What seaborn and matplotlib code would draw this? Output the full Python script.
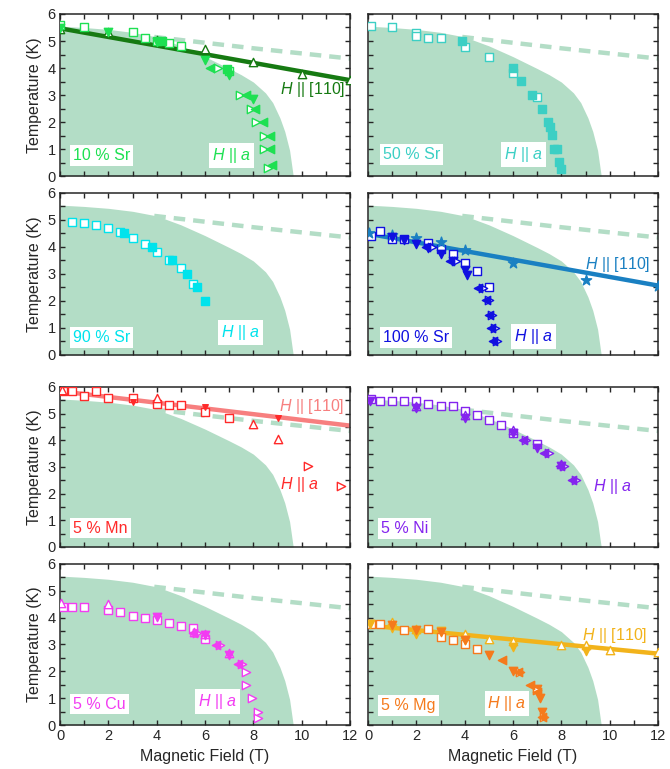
import matplotlib
matplotlib.use('Agg')
import matplotlib.pyplot as plt
import seaborn as sns
from matplotlib.ticker import MultipleLocator

sns.set_style('ticks')
plt.rcParams['font.family'] = ['Liberation Sans', 'DejaVu Sans']
plt.rcParams['mathtext.fontset'] = 'custom'
plt.rcParams['mathtext.it'] = 'Liberation Sans:italic'
plt.rcParams['mathtext.rm'] = 'Liberation Sans'

#%% shared phase boundary (pure compound) + dashed H||[110] line
pb_h = [0, 1, 2, 3, 4, 5, 6, 7, 7.5, 8, 8.5, 8.8, 9.1, 9.3, 9.5, 9.65]
pb_t = [5.55, 5.5, 5.43, 5.32, 5.15, 4.82, 4.42, 3.98, 3.75, 3.48, 3.08, 2.72, 2.15, 1.65, 0.95, 0]
dl_h = [3.9, 8, 12]
dl_t = [5.15, 4.73, 4.35]

#%% 10 % Sr
sr10_line_h = [0, 12]
sr10_line_t = [5.47, 3.55]
sr10_up_h = [0, 2, 4, 6, 8, 10, 12]
sr10_up_t = [5.45, 5.35, 5.05, 4.7, 4.23, 3.77, 3.55]
sr10_sq_h = [0, 1, 3, 3.5, 4, 4.5, 5, 7]
sr10_sq_t = [5.6, 5.5, 5.32, 5.12, 5.0, 4.91, 4.81, 3.9]
sr10_fsq_h = [4.2, 6.9]
sr10_fsq_t = [5.0, 3.98]
sr10_dn_h = [0, 2, 4, 6, 7, 8]
sr10_dn_t = [5.47, 5.32, 4.97, 4.3, 3.74, 2.87]
sr10_lf_h = [6.19, 7.7, 8.05, 8.39, 8.67, 8.67, 8.76]
sr10_lf_t = [4.0, 3.0, 2.5, 2.0, 1.5, 1.0, 0.4]
sr10_rt_h = [6.53, 7.43, 7.9, 8.12, 8.46, 8.46, 8.6]
sr10_rt_t = [4.0, 3.0, 2.5, 2.0, 1.5, 1.0, 0.3]

#%% 50 % Sr
sr50_sq_h = [0.14, 1.0, 2.0, 2.0, 2.48, 3.0, 4.0, 5.0, 5.98, 6.99]
sr50_sq_t = [5.56, 5.51, 5.28, 5.18, 5.1, 5.1, 4.78, 4.39, 3.8, 2.93]
sr50_fsq_h = [3.9, 5.98, 6.35, 6.8, 7.22, 7.43, 7.53, 7.63, 7.7, 7.82, 7.9, 7.98]
sr50_fsq_t = [5.01, 4.0, 3.51, 3.0, 2.5, 2.0, 1.8, 1.51, 1.01, 1.01, 0.52, 0.27]

#%% 90 % Sr
sr90_sq_h = [0.5, 1.0, 1.5, 2.0, 2.5, 3.0, 3.5, 4.0, 4.5, 5.0, 5.5]
sr90_sq_t = [4.92, 4.87, 4.82, 4.72, 4.57, 4.32, 4.12, 3.83, 3.53, 3.23, 2.63]
sr90_fsq_h = [2.64, 3.81, 4.64, 5.25, 5.68, 6.01]
sr90_fsq_t = [4.51, 4.0, 3.5, 2.98, 2.5, 1.99]

#%% 100 % Sr
sr100_line_h = [0, 12]
sr100_line_t = [4.49, 2.57]
sr100_star_h = [0.04, 1.0, 2.0, 3.0, 4.0, 6.0, 9.0, 12.0]
sr100_star_t = [4.52, 4.43, 4.34, 4.2, 3.87, 3.41, 2.78, 2.57]
sr100_sq_h = [0.14, 0.5, 1.0, 1.5, 2.5, 3.0, 3.5, 4.0, 4.5, 5.0]
sr100_sq_t = [4.4, 4.58, 4.29, 4.31, 4.16, 3.94, 3.73, 3.42, 3.1, 2.52]
sr100_dn_h = [1.0, 1.5, 2.0, 2.5, 3.0, 3.5, 4.0, 4.1]
sr100_dn_t = [4.37, 4.27, 4.12, 3.96, 3.75, 3.47, 3.13, 2.97]
sr100_lf_h = [2.4, 3.4, 4.54, 4.88, 5.0, 5.09, 5.19]
sr100_lf_t = [4.0, 3.47, 2.48, 2.02, 1.49, 0.99, 0.5]
sr100_rt_h = [2.65, 3.65, 4.75, 5.0, 5.15, 5.25, 5.32]
sr100_rt_t = [4.0, 3.47, 2.48, 2.02, 1.49, 0.99, 0.5]

#%% 5 % Mn
mn_line_h = [0, 12]
mn_line_t = [5.84, 4.55]
mn_sq_h = [0.14, 0.5, 1.0, 1.5, 2.0, 3.0, 4.0, 4.5, 5.0, 6.0, 7.0]
mn_sq_t = [5.86, 5.86, 5.65, 5.84, 5.59, 5.59, 5.36, 5.34, 5.34, 5.06, 4.84]
mn_up_h = [0.1, 4.0, 8.0, 9.0]
mn_up_t = [5.9, 5.59, 4.6, 4.06]
mn_dn_h = [3.0, 6.0, 9.0]
mn_dn_t = [5.45, 5.25, 4.85]
mn_rt_h = [10.27, 11.62]
mn_rt_t = [3.03, 2.28]

#%% 5 % Ni
ni_sq_h = [0.14, 0.5, 1, 1.5, 2, 2.5, 3, 3.5, 4, 4.5, 5, 5.5, 6, 7]
ni_sq_t = [5.55, 5.46, 5.46, 5.46, 5.46, 5.36, 5.27, 5.27, 5.09, 4.96, 4.78, 4.59, 4.28, 3.86]
ni_up_h = [2, 4, 6, 8]
ni_up_t = [5.3, 4.95, 4.4, 3.1]
ni_dn_h = [0.07, 2, 4, 6, 7, 8]
ni_dn_t = [5.46, 5.21, 4.84, 4.28, 3.71, 3.03]
ni_lf_h = [6.4, 7.3, 7.95, 8.45]
ni_lf_t = [4.03, 3.53, 3.03, 2.53]
ni_rt_h = [6.55, 7.5, 8.1, 8.6]
ni_rt_t = [4.03, 3.53, 3.03, 2.53]

#%% 5 % Cu
cu_sq_h = [0.14, 0.5, 1.0, 2.0, 2.5, 3.0, 3.5, 4.0, 4.5, 5.0, 5.5, 6.0]
cu_sq_t = [4.39, 4.39, 4.39, 4.3, 4.2, 4.08, 3.99, 3.92, 3.8, 3.7, 3.63, 3.22]
cu_up_h = [0.04, 2.0, 5.55, 6.0, 7.0]
cu_up_t = [4.55, 4.5, 3.45, 3.38, 2.7]
cu_dn_h = [4.0, 6.0, 7.0]
cu_dn_t = [4.04, 3.34, 2.62]
cu_lf_h = [5.5, 6.45, 7.35]
cu_lf_t = [3.42, 2.99, 2.28]
cu_rt_h = [5.65, 6.6, 7.55, 7.7, 7.7, 7.95, 8.2, 8.2]
cu_rt_t = [3.42, 2.99, 2.28, 1.98, 1.49, 0.99, 0.5, 0.25]

#%% 5 % Mg
mg_line_h = [0, 12]
mg_line_t = [3.71, 2.66]
mg_up_h = [1.0, 2.0, 4.0, 5.0, 6.0, 8.0, 9.0, 10.0, 12.0]
mg_up_t = [3.84, 3.59, 3.4, 3.22, 3.12, 2.97, 2.97, 2.78, 2.72]
mg_ydn_h = [0.07, 1, 2, 3, 4, 6, 9]
mg_ydn_t = [3.78, 3.62, 3.4, 3.49, 3.16, 2.91, 2.76]
mg_sq_h = [0.14, 0.5, 1.5, 2.5, 3.0, 3.5, 4.0, 4.5]
mg_sq_t = [3.75, 3.78, 3.53, 3.56, 3.27, 3.16, 3.03, 2.85]
mg_dn_h = [1, 2, 3, 4, 5, 6, 7, 7.1, 7.2]
mg_dn_t = [3.71, 3.53, 3.47, 3.16, 2.6, 2.02, 1.36, 0.99, 0.5]
mg_lf_h = [5.54, 6.19, 6.71, 6.99, 7.2]
mg_lf_t = [2.41, 1.98, 1.49, 1.24, 0.3]
mg_rt_h = [6.3, 7.0, 7.3]
mg_rt_t = [1.98, 1.3, 0.3]

shade = '#b3ddc6'
HA = r'$H$ || $a$'
H110 = r'$H$ || [110]'


def frame(ax, left, bottom):
    ax.fill_between(pb_h, pb_t, 0, color=shade, lw=0, zorder=0)
    sns.lineplot(x=dl_h, y=dl_t, ax=ax, color=shade, lw=3.2, zorder=1)
    ax.lines[-1].set_dashes((2.6, 1.8))
    ax.set_xlim(0, 12)
    ax.set_ylim(0, 6)
    ax.xaxis.set_major_locator(MultipleLocator(2))
    ax.xaxis.set_minor_locator(MultipleLocator(1))
    ax.yaxis.set_major_locator(MultipleLocator(1))
    ax.yaxis.set_minor_locator(MultipleLocator(0.5))
    ax.tick_params(which='both', direction='in', top=True, right=True,
                   length=3.5, width=1, labelsize=10.5, pad=3,
                   labelleft=left, labelbottom=bottom)
    for s in ax.spines.values():
        s.set_linewidth(1.1)


def finish(ax, left, bottom):
    ax.set_ylabel('Temperature (K)' if left else '', fontsize=11.5)
    ax.set_xlabel('Magnetic Field (T)' if bottom else '', fontsize=11.5)


def line(ax, h, t, c):
    sns.lineplot(x=h, y=t, ax=ax, color=c, lw=3.2, zorder=2)


def pts(ax, h, t, m, c, filled=True, s=36):
    sns.scatterplot(x=h, y=t, ax=ax, marker=m, s=s,
                    color=c if filled else 'white', edgecolor=c,
                    linewidth=1, zorder=3)


def label(ax, x, y, txt, c, ha='left', box=True):
    bb = dict(boxstyle='square,pad=0.18', fc='white', ec='none') if box else None
    ax.text(x, y, txt, color=c, fontsize=11.5, ha=ha, va='center', bbox=bb, zorder=4)


fig = plt.figure(figsize=(6.7, 7.69), dpi=100)
cols = [0.0896, 0.5493]
w = 0.4328
rows = [(0.7711, 0.2107), (0.5384, 0.2107), (0.2887, 0.2081), (0.0572, 0.2094)]
axs = [[fig.add_axes([cl, rb, w, rh]) for cl in cols] for rb, rh in rows]

for i in range(4):
    for j in range(2):
        frame(axs[i][j], j == 0, i == 3)

# 10 % Sr
g1, g2 = '#1ee052', '#167a12'
ax = axs[0][0]
line(ax, sr10_line_h, sr10_line_t, g2)
pts(ax, sr10_up_h, sr10_up_t, '^', g2, False)
pts(ax, sr10_sq_h, sr10_sq_t, 's', g1, False, 30)
pts(ax, sr10_fsq_h, sr10_fsq_t, 's', g1, True, 30)
pts(ax, sr10_dn_h, sr10_dn_t, 'v', g1)
pts(ax, sr10_rt_h, sr10_rt_t, '>', g1, False)
pts(ax, sr10_lf_h, sr10_lf_t, '<', g1)
label(ax, 0.55, 0.75, '10 % Sr', g1)
label(ax, 7.1, 0.75, HA, g1, 'center')
label(ax, 10.45, 3.2, H110, g2, 'center', False)

# 50 % Sr
c50 = '#3ccfc4'
ax = axs[0][1]
pts(ax, sr50_sq_h, sr50_sq_t, 's', c50, False, 30)
pts(ax, sr50_fsq_h, sr50_fsq_t, 's', c50, True, 34)
label(ax, 0.6, 0.79, '50 % Sr', c50)
label(ax, 6.45, 0.79, HA, c50, 'center')

# 90 % Sr
c90 = '#00e3ec'
ax = axs[1][0]
pts(ax, sr90_sq_h, sr90_sq_t, 's', c90, False, 30)
pts(ax, sr90_fsq_h, sr90_fsq_t, 's', c90, True, 34)
label(ax, 0.55, 0.66, '90 % Sr', c90)
label(ax, 7.47, 0.82, HA, c90, 'center')

# 100 % Sr
b1, b2 = '#1010e0', '#1a80c2'
ax = axs[1][1]
line(ax, sr100_line_h, sr100_line_t, b2)
pts(ax, sr100_sq_h, sr100_sq_t, 's', b1, False, 30)
pts(ax, sr100_star_h, sr100_star_t, '*', b2, True, 60)
pts(ax, sr100_dn_h, sr100_dn_t, 'v', b1)
pts(ax, sr100_rt_h, sr100_rt_t, '>', b1, False)
pts(ax, sr100_lf_h, sr100_lf_t, '<', b1)
label(ax, 0.6, 0.66, '100 % Sr', b1)
label(ax, 6.85, 0.69, HA, b1, 'center')
label(ax, 10.35, 3.35, H110, b2, 'center', False)

# 5 % Mn
r1, r2 = '#ff2a2a', '#f77f7f'
ax = axs[2][0]
line(ax, mn_line_h, mn_line_t, r2)
pts(ax, mn_sq_h, mn_sq_t, 's', r1, False, 30)
pts(ax, mn_up_h, mn_up_t, '^', r1, False)
pts(ax, mn_dn_h, mn_dn_t, 'v', r1, True, 16)
pts(ax, mn_rt_h, mn_rt_t, '>', r1, False)
label(ax, 0.55, 0.71, '5 % Mn', r1)
label(ax, 9.9, 2.36, HA, r1, 'center', False)
label(ax, 9.08, 5.27, H110, r2, 'left', False)

# 5 % Ni
p1 = '#8424ee'
ax = axs[2][1]
pts(ax, ni_sq_h, ni_sq_t, 's', p1, False, 30)
pts(ax, ni_up_h, ni_up_t, '^', p1, False)
pts(ax, ni_dn_h, ni_dn_t, 'v', p1)
pts(ax, ni_rt_h, ni_rt_t, '>', p1, False)
pts(ax, ni_lf_h, ni_lf_t, '<', p1)
label(ax, 0.55, 0.7, '5 % Ni', p1)
label(ax, 10.1, 2.27, HA, p1, 'center', False)

# 5 % Cu
m1 = '#f23cf2'
ax = axs[3][0]
pts(ax, cu_sq_h, cu_sq_t, 's', m1, False, 30)
pts(ax, cu_up_h, cu_up_t, '^', m1, False)
pts(ax, cu_dn_h, cu_dn_t, 'v', m1)
pts(ax, cu_rt_h, cu_rt_t, '>', m1, False)
pts(ax, cu_lf_h, cu_lf_t, '<', m1)
label(ax, 0.55, 0.78, '5 % Cu', m1)
label(ax, 6.5, 0.87, HA, m1, 'center')

# 5 % Mg
o1, y1 = '#f57a1c', '#f2b31b'
ax = axs[3][1]
line(ax, mg_line_h, mg_line_t, y1)
pts(ax, mg_sq_h, mg_sq_t, 's', o1, False, 30)
pts(ax, mg_up_h, mg_up_t, '^', y1, False)
pts(ax, mg_ydn_h, mg_ydn_t, 'v', y1)
pts(ax, mg_dn_h, mg_dn_t, 'v', o1)
pts(ax, mg_rt_h, mg_rt_t, '>', o1, False)
pts(ax, mg_lf_h, mg_lf_t, '<', o1)
label(ax, 0.55, 0.74, '5 % Mg', o1)
label(ax, 5.75, 0.8, HA, o1, 'center')
label(ax, 10.2, 3.34, H110, y1, 'center', False)

for i in range(4):
    for j in range(2):
        finish(axs[i][j], j == 0, i == 3)

fig.savefig('out.png', dpi=100)
